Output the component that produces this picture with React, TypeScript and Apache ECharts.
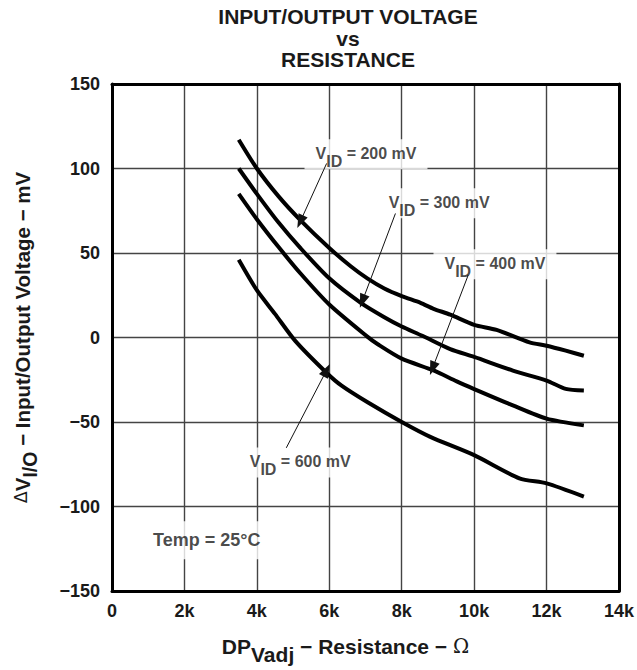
import React, { useEffect, useRef } from "react";
import * as echarts from "echarts";

const FONT = "'Liberation Sans', Arial, Helvetica, sans-serif";
const INK = "#1a1a1a";

// Resistance (ohm) and ΔV I/O (mV) per curve
const vid200X = [3500, 4000, 4600, 5200, 6000, 6600, 7050, 7520, 8000, 8520, 8880, 9340, 10000, 10620, 11530, 12000, 12530, 13030];
const vid200Y = [117, 100, 83.5, 69.5, 53, 42, 35, 29, 24.5, 20.5, 17, 13.5, 7.5, 4.5, -2.9, -4.9, -7.8, -10.8];

const vid300X = [3500, 4000, 4600, 5200, 6000, 6870, 7520, 8000, 8570, 9340, 10000, 11070, 12000, 12530, 13030];
const vid300Y = [100, 85, 68, 53, 35, 20.5, 12, 6.5, 1, -6.9, -11.5, -19.6, -25.5, -30.4, -31.4];

const vid400X = [3500, 4000, 4600, 5200, 6000, 7050, 7340, 8000, 8880, 9520, 10000, 11070, 12000, 13030];
const vid400Y = [85, 70, 53.5, 38, 19.5, 0.5, -4, -12.5, -19.5, -26, -30.5, -40.2, -48, -52];

const vid600X = [3500, 4000, 4500, 5060, 5930, 6340, 7070, 8000, 8790, 10000, 11250, 12000, 13030];
const vid600Y = [46, 28, 14, -2, -21, -28.5, -38.5, -50, -58.8, -69.6, -83.3, -86.3, -94.1];

const xTicks = ["0", "2k", "4k", "6k", "8k", "10k", "12k", "14k"];

// Annotation labels: [x, y, text]
const curveLabels: [number, number, string][] = [
  [7014, 108.4, "200 mV"],
  [9033, 79.4, "300 mV"],
  [10575, 43.3, "400 mV"],
  [5197, -74, "600 mV"],
];
const tempLabel: [number, number, string] = [2616, -120, "Temp = 25°C"];

// Arrows: [fromX, fromY, toX, toY]
const arrows: [number, number, number, number][] = [
  [5927, 103, 5197, 68.5],
  [7827, 73.4, 6913, 21.5],
  [9836, 36.9, 8849, -18.3],
  [4813, -65.3, 5927, -19.3],
];

const zip = (xs: number[], ys: number[]) => xs.map((x, i) => [x, ys[i]]);

const curve = (name: string, xs: number[], ys: number[]) => ({
  name,
  type: "line",
  data: zip(xs, ys),
  showSymbol: false,
  smooth: 0.25,
  lineStyle: { color: "#000", width: 4 },
  z: 3,
});

const borderAxis = {
  axisLine: { show: true, onZero: false, lineStyle: { color: "#000", width: 3 } },
  axisTick: { show: false },
  axisLabel: { show: false },
  splitLine: { show: false },
};

export default function App() {
  const ref = useRef<HTMLDivElement>(null);
  useEffect(() => {
    const chart = echarts.init(ref.current!, null, { renderer: "svg" });
    const subRich = {
      v: { fontFamily: FONT, fontSize: 16, fontWeight: "bold", color: INK, verticalAlign: "top", lineHeight: 18 },
      sub: { fontFamily: FONT, fontSize: 16, fontWeight: "bold", color: INK, verticalAlign: "top", lineHeight: 18, padding: [8, 0, 0, 0] },
    };
    chart.setOption({
      animation: false,
      graphic: [
        {
          type: "text",
          x: 348,
          y: 6,
          style: {
            text: "INPUT/OUTPUT VOLTAGE\nvs\nRESISTANCE",
            align: "center",
            verticalAlign: "top",
            fontFamily: FONT,
            fontSize: 21,
            fontWeight: "bold",
            lineHeight: 21.5,
            fill: INK,
          },
        },
      ],
      grid: { left: 112, right: 14, top: 84, bottom: 77 },
      xAxis: [
        {
          type: "value",
          min: 0,
          max: 14000,
          interval: 2000,
          axisLine: { show: true, onZero: false, lineStyle: { color: "#000", width: 3 } },
          axisTick: { show: false },
          splitLine: { show: true, lineStyle: { color: "#444", width: 1.4, type: "solid" } },
          axisLabel: {
            formatter: (v: number) => xTicks[Math.round(v / 2000)],
            fontFamily: FONT,
            fontSize: 18,
            fontWeight: "bold",
            color: INK,
            margin: 11,
          },
          name: "{v|DP}{sub|Vadj}{v| − Resistance − }{o|Ω}",
          nameLocation: "middle",
          nameGap: 45,
          nameTextStyle: {
            padding: [0, 40, 0, 0],
            rich: {
              v: { fontFamily: FONT, fontSize: 21, fontWeight: "bold", color: INK, verticalAlign: "top", lineHeight: 22 },
              sub: { fontFamily: FONT, fontSize: 21, fontWeight: "bold", color: INK, verticalAlign: "top", lineHeight: 22, padding: [8, 0, 0, 0] },
              o: { fontFamily: "'DejaVu Serif', 'Liberation Serif', serif", fontSize: 19.5, color: INK, verticalAlign: "top", lineHeight: 22 },
            },
          },
        },
        { type: "value", position: "top", min: 0, max: 14000, interval: 2000, ...borderAxis },
      ],
      yAxis: [
        {
          type: "value",
          min: -150,
          max: 150,
          interval: 50,
          axisLine: { show: true, onZero: false, lineStyle: { color: "#000", width: 3 } },
          axisTick: { show: false },
          splitLine: { show: true, lineStyle: { color: "#444", width: 1.4, type: "solid" } },
          axisLabel: {
            formatter: (v: number) => String(v).replace("-", "−"),
            fontFamily: FONT,
            fontSize: 18,
            fontWeight: "bold",
            color: INK,
            margin: 12,
          },
          name: "{d|Δ}{v|V}{sub|I/O}{v| − Input/Output Voltage − mV}",
          nameLocation: "middle",
          nameGap: 80,
          nameRotate: 90,
          nameTextStyle: {
            rich: {
              d: { fontFamily: "'DejaVu Sans', sans-serif", fontSize: 17.5, color: INK, verticalAlign: "top", lineHeight: 20 },
              v: { fontFamily: FONT, fontSize: 20.5, fontWeight: "bold", color: INK, verticalAlign: "top", lineHeight: 20 },
              sub: { fontFamily: FONT, fontSize: 19.5, fontWeight: "bold", color: INK, verticalAlign: "top", lineHeight: 20, padding: [8, 0, 0, 0] },
            },
          },
        },
        { type: "value", position: "right", min: -150, max: 150, interval: 50, ...borderAxis },
      ],
      series: [
        curve("VID = 200 mV", vid200X, vid200Y),
        curve("VID = 300 mV", vid300X, vid300Y),
        curve("VID = 400 mV", vid400X, vid400Y),
        curve("VID = 600 mV", vid600X, vid600Y),
        {
          name: "annotations",
          type: "scatter",
          symbolSize: 0,
          silent: true,
          z: 4,
          data: [
            ...curveLabels.map(([x, y, t]) => ({
              value: [x, y],
              label: {
                show: true,
                position: "inside",
                formatter: `{v|V}{sub|ID}{v| = ${t}}`,
                backgroundColor: "#fff",
                padding: [6, 11, 6, 11],
                rich: subRich,
              },
            })),
            {
              value: [tempLabel[0], tempLabel[1]],
              label: {
                show: true,
                position: "inside",
                formatter: tempLabel[2],
                backgroundColor: "#fff",
                padding: [10, 14, 10, 14],
                fontFamily: FONT,
                fontSize: 18,
                fontWeight: "bold",
                color: INK,
              },
            },
          ],
          markLine: {
            silent: true,
            symbol: ["none", "triangle"],
            symbolSize: [10, 14],
            label: { show: false },
            lineStyle: { color: "#111", width: 1, type: "solid" },
            data: arrows.map(([x1, y1, x2, y2]) => [{ coord: [x1, y1] }, { coord: [x2, y2] }]),
          },
        },
      ],
    });
    return () => chart.dispose();
  }, []);
  return (
    <div
      ref={ref}
      style={{ position: "fixed", left: 0, top: 0, width: 637, height: 670, background: "#fff" }}
    />
  );
}
